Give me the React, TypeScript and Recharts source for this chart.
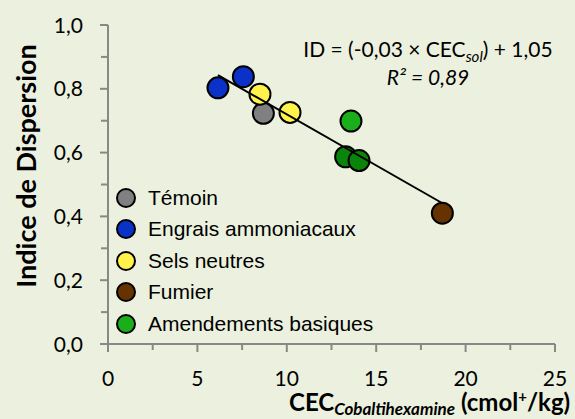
import React from "react";
import { ScatterChart, Scatter, XAxis, YAxis, Cell, Legend } from "recharts";

// values
const temoinX = [8.69];
const temoinY = [0.723];
const engraisX = [6.15, 7.57];
const engraisY = [0.803, 0.838];
const selsX = [8.5, 10.18];
const selsY = [0.783, 0.726];
const fumierX = [18.7];
const fumierY = [0.41];
const amendX = [13.59, 13.29, 14.04];
const amendY = [0.699, 0.587, 0.575];

// trend line end points
const trendX = [6.15, 18.68];
const trendY = [0.843, 0.442];

const xTicks = [0, 2.5, 5, 7.5, 10, 12.5, 15, 17.5, 20, 22.5, 25];
const yTicks = [0, 0.1, 0.2, 0.3, 0.4, 0.5, 0.6, 0.7, 0.8, 0.9, 1.0];

const BG = "#EBF1DE";
const AXIS = "#888888";
const TICK_FONT = "Lato, 'Open Sans', sans-serif";
const X_MARGIN = 20;
const Y_MARGIN = 20;
const TICK_SIZE = 8;

const toPoints = (xs: number[], ys: number[]) =>
  xs.map((x, i) => ({ x, y: ys[i] }));

const series = [
  { name: "Témoin", data: toPoints(temoinX, temoinY), color: "#808080" },
  { name: "Engrais ammoniacaux", data: toPoints(engraisX, engraisY), color: "#0A32C8" },
  { name: "Sels neutres", data: toPoints(selsX, selsY), color: "#FFF24A" },
  { name: "Fumier", data: toPoints(fumierX, fumierY), color: "#663300" },
  { name: "Amendements basiques", data: toPoints(amendX, amendY), color: "#1AAF1A" },
];
const amendFills = ["#1AAF1A", "#0B840B", "#0B840B"];

const Dot = (props: any) => (
  <circle cx={props.cx} cy={props.cy} r={10.5} fill={props.fill} stroke="#000" strokeWidth={2} />
);

const XTick = (props: any) => {
  const { x, y, payload } = props;
  const v = payload.value;
  const major = v % 5 === 0;
  const axisY = y - TICK_SIZE - X_MARGIN;
  return (
    <g>
      <line x1={x} x2={x} y1={axisY} y2={axisY + (major ? 8 : 6)} stroke={AXIS} strokeWidth={2} />
      {major && (
        <text x={x} y={axisY + 42} textAnchor="middle" fontFamily={TICK_FONT} fontSize={21} fill="#000">
          {v}
        </text>
      )}
    </g>
  );
};

const YTick = (props: any) => {
  const { x, y, payload } = props;
  const v = payload.value;
  const major = Math.round(v * 10) % 2 === 0;
  const axisX = x + TICK_SIZE + Y_MARGIN;
  return (
    <g>
      <line x1={axisX} x2={axisX - (major ? 8 : 7)} y1={y} y2={y} stroke={AXIS} strokeWidth={2} />
      {major && (
        <text x={axisX - 25} y={y + 7.5} textAnchor="end" fontFamily={TICK_FONT} fontSize={21} fill="#000">
          {v.toFixed(1).replace(".", ",")}
        </text>
      )}
    </g>
  );
};

const YLabel = () => (
  <text
    x={0}
    y={0}
    transform="translate(36, 166) rotate(-90)"
    textAnchor="middle"
    fontFamily={TICK_FONT}
    fontWeight="bold"
    fontSize={27}
    fill="#000"
  >
    Indice de Dispersion
  </text>
);

const XLabel = () => (
  <text x={289} y={411} fontFamily={TICK_FONT} fontWeight="bold" fontSize={24} fill="#000">
    CEC
    <tspan fontSize={17} fontStyle="italic" dy={4}>Cobaltihexamine</tspan>
    <tspan dy={-4}> (cmol</tspan>
    <tspan fontSize={15} dy={-9}>+</tspan>
    <tspan dy={9}>/kg)</tspan>
  </text>
);

const LegendBox = () => (
  <div style={{ fontFamily: "'Liberation Sans', Arial, sans-serif", fontSize: 21, color: "#000" }}>
    {series.map((s) => (
      <div key={s.name} style={{ height: 31.5, display: "flex", alignItems: "center" }}>
        <span
          style={{
            width: 20,
            height: 20,
            borderRadius: "50%",
            background: s.color,
            border: "2px solid #000",
            boxSizing: "border-box",
            marginRight: 12,
            display: "inline-block",
          }}
        />
        {s.name}
      </div>
    ))}
  </div>
);

const App = () => {
  return (
    <div style={{ position: "absolute", left: 0, top: 0, width: 575, height: 419, background: BG, overflow: "hidden" }}>
      <ScatterChart width={575} height={419} margin={{ top: 25, right: 20, left: 0, bottom: 0 }}>
        <XAxis
          type="number"
          dataKey="x"
          domain={[0, 25]}
          ticks={xTicks}
          interval={0}
          height={75}
          tickLine={false}
          tickSize={TICK_SIZE}
          tickMargin={X_MARGIN}
          axisLine={{ stroke: AXIS, strokeWidth: 2 }}
          tick={<XTick />}
          label={{ content: () => <XLabel /> }}
        />
        <YAxis
          type="number"
          dataKey="y"
          domain={[0, 1]}
          ticks={yTicks}
          interval={0}
          width={108}
          tickLine={false}
          tickSize={TICK_SIZE}
          tickMargin={Y_MARGIN}
          axisLine={{ stroke: AXIS, strokeWidth: 2 }}
          tick={<YTick />}
          label={{ content: () => <YLabel /> }}
        />
        <Legend
          layout="horizontal"
          verticalAlign="middle"
          align="center"
          content={() => <LegendBox />}
          wrapperStyle={{ position: "absolute", left: 116, top: 182, width: "auto", height: "auto" }}
        />
        {series.map((s) => (
          <Scatter
            key={s.name}
            name={s.name}
            data={s.data}
            fill={s.color}
            shape={<Dot />}
            isAnimationActive={false}
          >
            {s.name === "Amendements basiques" &&
              s.data.map((_, i) => <Cell key={i} fill={amendFills[i]} />)}
          </Scatter>
        ))}
        <Scatter
          name="trend"
          data={toPoints(trendX, trendY)}
          line={{ stroke: "#000", strokeWidth: 2 }}
          shape={() => <g />}
          legendType="none"
          isAnimationActive={false}
        />
      </ScatterChart>
      <div
        style={{
          position: "absolute",
          left: 290,
          top: 35,
          width: 276,
          textAlign: "center",
          fontFamily: TICK_FONT,
          fontSize: 21,
          lineHeight: "28px",
          color: "#000",
        }}
      >
        <div>
          ID = (-0,03 × CEC<sub style={{ fontStyle: "italic", fontSize: 15, lineHeight: 0 }}>sol</sub>) + 1,05
        </div>
        <div style={{ fontStyle: "italic" }}>R² = 0,89</div>
      </div>
    </div>
  );
};

export default App;
